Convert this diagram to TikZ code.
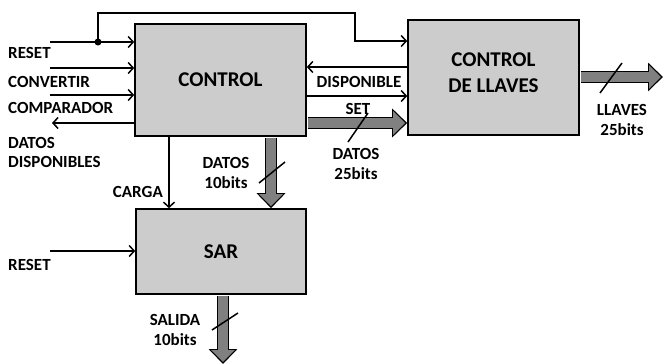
\documentclass[tikz,border=0pt]{standalone}
\usepackage{fontspec}
\setmainfont{Carlito}
\usetikzlibrary{arrows.meta,calc}
\definecolor{bloquegris}{RGB}{204,204,204}
\definecolor{busgris}{RGB}{128,128,128}

\begin{document}
\begin{tikzpicture}[x=1pt, y=-1pt,
	bloque/.style={draw=black, line width=1.6pt, fill=bloquegris, inner sep=0pt, font=\fontsize{21}{24}\selectfont\bfseries, align=center},
	senal/.style={line width=1.6pt, -{Straight Barb[length=5pt,width=11pt,line width=1.5pt]}},
	etiqueta/.style={font=\fontsize{17}{19.5}\selectfont\bfseries, inner sep=0pt},
	busborde/.style={line width=12.5pt, draw=black, shorten <=0.8pt, -{Triangle[length=15pt,width=28pt]}},
	busrelleno/.style={line width=9.5pt, draw=busgris, shorten <=0.8pt, shorten >=2pt, -{Triangle[length=12pt,width=23pt]}},
	barra/.style={line width=1.5pt}]
	
	\useasboundingbox (0,0) rectangle (664,364);
	
	% --- BUS ANCHO CON BORDE ---
	\newcommand{\bus}[2]{ % #1:inicio, #2:fin
		\draw[busborde] (#1) -- (#2);
		\draw[busrelleno] (#1) -- (#2);
	}
	
	% --- BLOQUES ---
	\node[bloque, minimum width=171pt, minimum height=112pt] (ctrl) at (220.5,80) {CONTROL};
	\node[bloque, minimum width=171pt, minimum height=115pt] (llaves) at (493.5,77.5) {CONTROL\\[2pt]DE LLAVES\\[-14pt]};
	\node[bloque, minimum width=170pt, minimum height=85pt] (sar) at (221,251.5) {SAR};
	
	% --- ENTRADAS DE CONTROL ---
	\coordinate (rst) at (50,42);
	\coordinate (conv) at (50,68);
	\coordinate (comp) at (50,95);
	\coordinate (dd) at (52,123);
	\coordinate (nodo) at (98,42);
	\coordinate (arriba) at (355,13);
	\draw[senal] (rst) -- (rst -| ctrl.west);
	\draw[senal] (conv) -- (conv -| ctrl.west);
	\draw[senal] (comp) -- (comp -| ctrl.west);
	\draw[senal] (dd -| ctrl.west) -- (dd);
	\fill (nodo) circle (3.5pt);
	\draw[senal] (nodo) |- (arriba) |- (llaves.west |- 0,41);
	
	\node[etiqueta, anchor=west] (lrst) at (8,53) {RESET};
	\node[etiqueta, anchor=west] (lconv) at (8,82) {CONVERTIR};
	\node[etiqueta, anchor=west] (lcomp) at (8,108) {COMPARADOR};
	\node[etiqueta, anchor=north west, align=left] (ldd) at (8,137) {DATOS\\DISPONIBLES};
	
	% --- ENTRE CONTROL Y CONTROL DE LLAVES ---
	\draw[senal] (llaves.west |- 0,67) -- (ctrl.east |- 0,67);
	\draw[senal] (ctrl.east |- 0,96) -- (llaves.west |- 0,96);
	\bus{ctrl.east |- 0,123}{llaves.west |- 0,123}
	\draw[barra] (348,142) -- (368,113);
	\node[etiqueta] (ldisp) at (359,82) {DISPONIBLE};
	\node[etiqueta] (lset) at (358,109) {SET};
	\node[etiqueta, align=center] (ld25) at (356,164) {DATOS\\25bits};
	
	% --- SALIDA LLAVES ---
	\coordinate (fin) at (663,77);
	\bus{llaves.east |- fin}{fin}
	\draw[barra] (600,93) -- (622,63);
	\node[etiqueta, align=center] (lll) at (622,120) {LLAVES\\25bits};
	
	% --- CONTROL A SAR ---
	\draw[senal] (ctrl.south -| 169,0) -- (sar.north -| 169,0);
	\node[etiqueta, anchor=east] (lcarga) at (163,192) {CARGA};
	\bus{ctrl.south -| 271,0}{sar.north -| 271,0}
	\draw[barra] (259,183) -- (285,162);
	\node[etiqueta, align=center] (ld10) at (226,173) {DATOS\\10bits};
	
	% --- SAR ---
	\coordinate (rst2) at (50,251);
	\draw[senal] (rst2) -- (rst2 -| sar.west);
	\node[etiqueta, anchor=west] (lrst2) at (8,265) {RESET};
	\coordinate (sal) at (223,364);
	\bus{sar.south -| sal}{sal}
	\draw[barra] (212,330) -- (238,313);
	\node[etiqueta, align=center] (lsal) at (175,330) {SALIDA\\10bits};
	
\end{tikzpicture}
\end{document}
